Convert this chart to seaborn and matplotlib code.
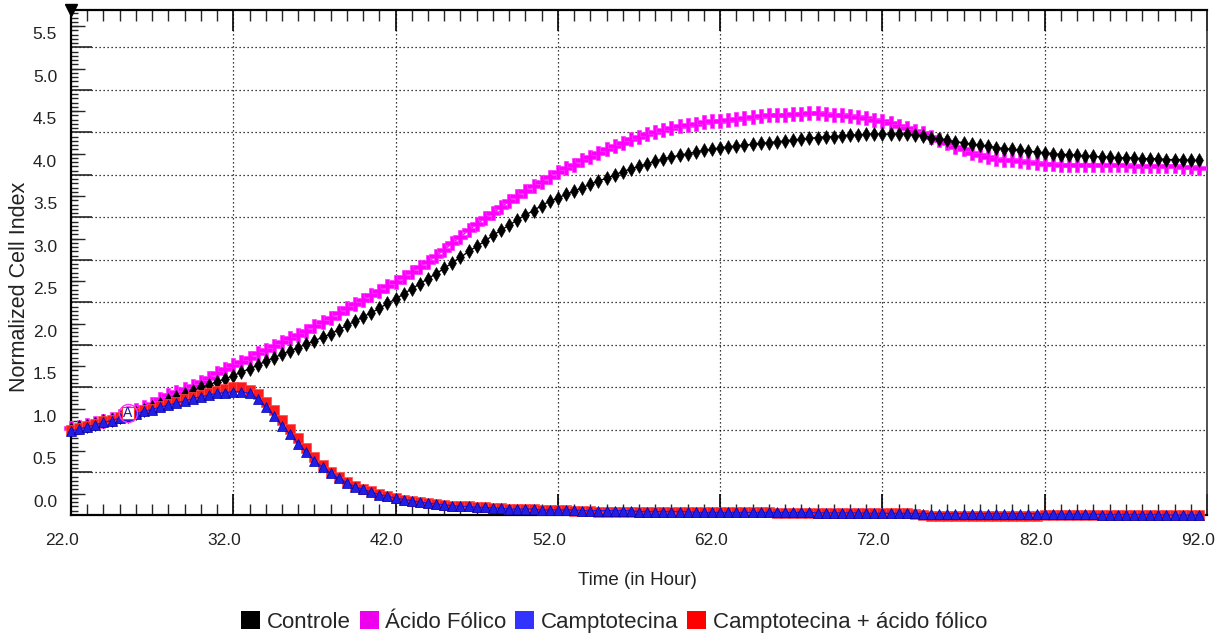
import numpy as np
import matplotlib
matplotlib.use("Agg")
import matplotlib.pyplot as plt
import matplotlib.transforms as mtransforms
from matplotlib.patches import Patch
from matplotlib.ticker import MultipleLocator
import seaborn as sns

# ---------------- data ----------------
time_h = np.arange(22.0, 92.0, 0.5)

controle = [
    1.01, 1.03, 1.05, 1.07, 1.10, 1.12, 1.15, 1.17, 1.20, 1.24,
    1.27, 1.31, 1.35, 1.39, 1.42, 1.46, 1.50, 1.53, 1.57, 1.60,
    1.64, 1.68, 1.72, 1.76, 1.81, 1.85, 1.89, 1.93, 1.97, 2.01,
    2.05, 2.09, 2.13, 2.18, 2.23, 2.28, 2.33, 2.38, 2.43, 2.49,
    2.54, 2.60, 2.66, 2.72, 2.78, 2.84, 2.90, 2.97, 3.03, 3.10,
    3.16, 3.22, 3.29, 3.35, 3.41, 3.47, 3.53, 3.58, 3.64, 3.69,
    3.73, 3.77, 3.81, 3.85, 3.89, 3.93, 3.96, 4.00, 4.04, 4.07,
    4.10, 4.13, 4.16, 4.19, 4.21, 4.23, 4.25, 4.27, 4.29, 4.30,
    4.32, 4.33, 4.34, 4.35, 4.36, 4.37, 4.38, 4.39, 4.40, 4.41,
    4.42, 4.43, 4.44, 4.45, 4.45, 4.46, 4.47, 4.47, 4.48, 4.48,
    4.48, 4.48, 4.48, 4.48, 4.47, 4.46, 4.44, 4.42, 4.41, 4.39,
    4.38, 4.36, 4.35, 4.34, 4.32, 4.31, 4.30, 4.29, 4.28, 4.27,
    4.26, 4.25, 4.24, 4.24, 4.23, 4.22, 4.22, 4.21, 4.21, 4.20,
    4.20, 4.20, 4.19, 4.19, 4.19, 4.18, 4.18, 4.18, 4.17, 4.17,
]

acido_folico = [
    1.02, 1.04, 1.06, 1.08, 1.10, 1.13, 1.16, 1.20, 1.23, 1.27,
    1.31, 1.36, 1.41, 1.45, 1.48, 1.52, 1.56, 1.61, 1.67, 1.72,
    1.76, 1.80, 1.85, 1.90, 1.94, 1.99, 2.03, 2.08, 2.12, 2.17,
    2.22, 2.27, 2.32, 2.38, 2.43, 2.48, 2.53, 2.59, 2.64, 2.69,
    2.74, 2.80, 2.86, 2.92, 2.98, 3.05, 3.12, 3.20, 3.27, 3.35,
    3.42, 3.49, 3.55, 3.62, 3.69, 3.75, 3.81, 3.87, 3.92, 3.98,
    4.03, 4.08, 4.12, 4.17, 4.21, 4.26, 4.30, 4.34, 4.38, 4.42,
    4.45, 4.48, 4.51, 4.53, 4.55, 4.57, 4.59, 4.60, 4.62, 4.63,
    4.64, 4.65, 4.66, 4.67, 4.68, 4.69, 4.70, 4.70, 4.71, 4.72,
    4.72, 4.73, 4.73, 4.72, 4.71, 4.70, 4.69, 4.68, 4.67, 4.65,
    4.63, 4.61, 4.58, 4.55, 4.52, 4.49, 4.45, 4.41, 4.37, 4.33,
    4.30, 4.26, 4.23, 4.21, 4.19, 4.18, 4.17, 4.16, 4.15, 4.14,
    4.13, 4.13, 4.12, 4.12, 4.12, 4.12, 4.12, 4.12, 4.12, 4.12,
    4.12, 4.11, 4.11, 4.11, 4.10, 4.10, 4.10, 4.09, 4.09, 4.08,
]

camptotecina = [
    0.99, 1.01, 1.04, 1.06, 1.09, 1.11, 1.14, 1.17, 1.19, 1.22,
    1.24, 1.27, 1.29, 1.32, 1.34, 1.37, 1.39, 1.41, 1.43, 1.44,
    1.45, 1.45, 1.43, 1.37, 1.27, 1.17, 1.05, 0.95, 0.84, 0.74,
    0.64, 0.56, 0.49, 0.43, 0.38, 0.33, 0.30, 0.27, 0.24, 0.22,
    0.20, 0.18, 0.17, 0.15, 0.14, 0.13, 0.12, 0.11, 0.10, 0.10,
    0.09, 0.09, 0.08, 0.08, 0.07, 0.07, 0.07, 0.07, 0.06, 0.06,
    0.06, 0.06, 0.06, 0.05, 0.05, 0.05, 0.05, 0.05, 0.05, 0.05,
    0.04, 0.04, 0.04, 0.04, 0.04, 0.04, 0.04, 0.03, 0.03, 0.03,
    0.03, 0.03, 0.03, 0.03, 0.03, 0.03, 0.03, 0.03, 0.03, 0.03,
    0.03, 0.03, 0.025, 0.025, 0.025, 0.025, 0.025, 0.025, 0.02, 0.02,
    0.02, 0.02, 0.02, 0.02, 0.02, 0.015, 0.015, 0.015, 0.015, 0.015,
    0.015, 0.015, 0.015, 0.015, 0.015, 0.015, 0.015, 0.015, 0.015, 0.015,
    0.01, 0.01, 0.01, 0.01, 0.01, 0.01, 0.01, 0.005, 0.005, 0.005,
    0.005, 0.005, 0.005, 0.005, 0.005, 0.0, 0.0, 0.0, 0.0, 0.0,
]

campto_acido = [
    1.00, 1.02, 1.05, 1.07, 1.10, 1.12, 1.15, 1.18, 1.20, 1.23,
    1.25, 1.28, 1.30, 1.33, 1.36, 1.39, 1.41, 1.44, 1.46, 1.48,
    1.50, 1.50, 1.47, 1.42, 1.33, 1.23, 1.12, 1.01, 0.90, 0.79,
    0.68, 0.59, 0.51, 0.45, 0.39, 0.34, 0.31, 0.28, 0.25, 0.22,
    0.20, 0.18, 0.17, 0.15, 0.14, 0.13, 0.12, 0.11, 0.10, 0.10,
    0.09, 0.09, 0.08, 0.08, 0.07, 0.07, 0.07, 0.07, 0.06, 0.06,
    0.06, 0.06, 0.05, 0.05, 0.05, 0.04, 0.04, 0.03, 0.03, 0.03,
    0.03, 0.03, 0.03, 0.03, 0.03, 0.03, 0.03, 0.03, 0.03, 0.03,
    0.03, 0.03, 0.03, 0.03, 0.03, 0.03, 0.03, 0.025, 0.025, 0.025,
    0.025, 0.025, 0.025, 0.025, 0.025, 0.02, 0.02, 0.02, 0.02, 0.02,
    0.02, 0.02, 0.02, 0.02, 0.01, 0.0, -0.01, -0.015, -0.015, -0.015,
    -0.015, -0.015, -0.015, -0.015, -0.015, -0.015, -0.015, -0.015, -0.015, -0.015,
    0.0, 0.0, 0.0, 0.0, 0.0, 0.0, 0.0, 0.0, 0.0, 0.0,
    0.0, 0.0, 0.0, 0.0, 0.0, 0.0, 0.0, 0.0, 0.0, 0.0,
]

series_names = ["Controle", "Ácido Fólico", "Camptotecina", "Camptotecina + ácido fólico"]
series_colors = ["#000000", "#ff00ff", "#1f1fe6", "#ff1a1a"]
legend_colors = ["#000000", "#ee00ee", "#3333ff", "#ff0000"]
x_ticks = [22.0, 32.0, 42.0, 52.0, 62.0, 72.0, 82.0, 92.0]
y_ticks = [0.0, 0.5, 1.0, 1.5, 2.0, 2.5, 3.0, 3.5, 4.0, 4.5, 5.0, 5.5]
marker_time = 25.5  # normalisation point "A"

# ---------------- style ----------------
sns.set_style("white")
plt.rcParams["font.family"] = ["Liberation Sans", "DejaVu Sans"]

W, H = 1219, 636
fig = plt.figure(figsize=(W / 100, H / 100), dpi=100)
ax = fig.add_axes([71 / W, 121 / H, 1136 / W, 505 / H])

common = dict(ax=ax, estimator=None, sort=False, legend=False, clip_on=False)

sns.lineplot(x=time_h, y=acido_folico, color=series_colors[1], marker="P",
             markersize=10.5, markeredgecolor="#ff33ff", markeredgewidth=0.5,
             linewidth=1.0, zorder=3, **common)
sns.lineplot(x=time_h, y=controle, color=series_colors[0], marker="d",
             markersize=7, markeredgecolor=series_colors[0], markeredgewidth=0.4,
             linewidth=1.0, zorder=4, **common)
sns.lineplot(x=time_h, y=campto_acido, color=series_colors[3], marker="s",
             markersize=6.5, markeredgecolor="#ff4d4d", markeredgewidth=0.5,
             linewidth=1.0, zorder=5, **common)
sns.lineplot(x=time_h, y=camptotecina, color=series_colors[2], marker="^",
             markersize=6.5, markeredgecolor="#0000aa", markeredgewidth=0.5,
             linewidth=1.0, zorder=6, **common)

# normalisation marker "A"
idx = int(np.argmin(np.abs(time_h - marker_time)))
ya = acido_folico[idx]
ax.plot([marker_time], [ya], marker="o", ms=13, mfc="none", mec="#ff33ff", mew=1.0,
        zorder=7, clip_on=False)
ax.plot([marker_time], [ya], marker="s", ms=8, mfc="white", mec="#ff3333", mew=0.8,
        zorder=7, clip_on=False)
ax.text(marker_time, ya, "A", color="#1a1a99", fontsize=10, ha="center", va="center",
        zorder=8)

# ---------------- axes ----------------
ax.set_xlim(22.0, 92.0)
ax.set_ylim(0.0, 5.94)
ax.set_xticks(x_ticks)
ax.set_xticklabels([f"{v:.1f}" for v in x_ticks], fontsize=12.5)
ax.xaxis.set_minor_locator(MultipleLocator(1.0))
ax.set_yticks(y_ticks)
ax.set_yticklabels([f"{v:.1f}" for v in y_ticks], fontsize=12.5)
ax.yaxis.set_minor_locator(MultipleLocator(0.05))

ax.tick_params(axis="x", which="major", direction="in", length=15, width=1.2,
               top=True, bottom=True, pad=13, colors="black", labelcolor="#222222")
ax.tick_params(axis="x", which="minor", direction="in", length=8, width=1.0,
               top=True, bottom=True)
ax.tick_params(axis="y", which="major", direction="in", length=15, width=1.2,
               left=True, right=False, pad=10, labelcolor="#222222")
ax.tick_params(axis="y", which="minor", direction="in", length=5, width=1.0,
               left=True, right=False)

sec = ax.secondary_yaxis("left")
sec.set_yticks(np.arange(0.25, 5.9, 0.5))
sec.tick_params(direction="in", length=10, width=1.0, labelleft=False)
sec.spines["left"].set_visible(False)

ax.grid(True, which="major", color="black", linestyle=(0, (1, 2.2)), linewidth=0.9)
ax.set_axisbelow(True)
for side in ["left", "bottom", "top"]:
    ax.spines[side].set_color("black")
    ax.spines[side].set_linewidth(1.6)
ax.spines["right"].set_color("#333333")
ax.spines["right"].set_linewidth(1.2)

# shift tick labels as in the reference
dx = mtransforms.ScaledTranslation(-0.09, 0, fig.dpi_scale_trans)
for t in ax.xaxis.get_major_ticks():
    t.label1.set_transform(t.label1.get_transform() + dx)
dy = mtransforms.ScaledTranslation(0, 0.14, fig.dpi_scale_trans)
for t in ax.yaxis.get_major_ticks():
    t.label1.set_transform(t.label1.get_transform() + dy)

# black triangle at top-left corner
ax.plot([22.0], [1.0], marker="v", ms=9, color="black",
        transform=mtransforms.blended_transform_factory(ax.transData, ax.transAxes),
        clip_on=False, zorder=9)

ax.set_xlabel("Time (in Hour)", fontsize=13.5, color="#222222")
ax.xaxis.label.set_va("center")
ax.xaxis.set_label_coords(0.499, -0.129)
ax.set_ylabel("Normalized Cell Index", fontsize=15.5, color="#222222")
ax.yaxis.label.set_va("center")
ax.yaxis.set_label_coords(-0.0449, 0.4515)

handles = [Patch(facecolor=c, edgecolor="none", label=n)
           for c, n in zip(legend_colors, series_names)]
fig.legend(handles=handles, loc="center", bbox_to_anchor=(0.504, 1 - 622 / H),
           ncol=4, frameon=False, fontsize=16, handlelength=0.85, handleheight=0.85,
           handletextpad=0.3, columnspacing=0.4, borderpad=0.0)

fig.savefig("out.png", dpi=100, facecolor="white")
